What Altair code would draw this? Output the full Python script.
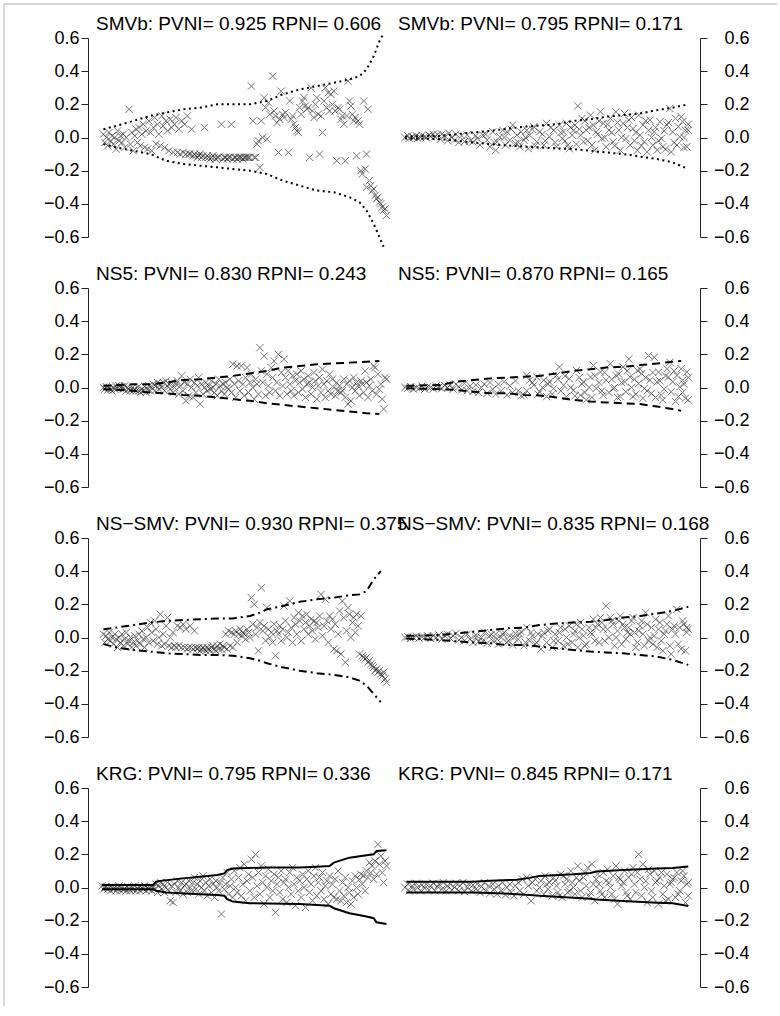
import altair as alt
import pandas as pd

FONT = "Liberation Sans"
Y_TICKS = [-0.6, -0.4, -0.2, 0.0, 0.2, 0.4, 0.6]
TITLES = [
    "SMVb: PVNI= 0.925 RPNI= 0.606", "SMVb: PVNI= 0.795 RPNI= 0.171",
    "NS5: PVNI= 0.830 RPNI= 0.243", "NS5: PVNI= 0.870 RPNI= 0.165",
    "NS\u2212SMV: PVNI= 0.930 RPNI= 0.375", "NS\u2212SMV: PVNI= 0.835 RPNI= 0.168",
    "KRG: PVNI= 0.795 RPNI= 0.336", "KRG: PVNI= 0.845 RPNI= 0.171",
]

# ---------------- SMVb (left) ----------------
SMVB_L_PTS = [
    (1,0.02),(2,-0.03),(3,0.0),(4,-0.05),(5,0.03),(6,-0.02),(7,0.01),(8,-0.04),(9,0.0),(10,-0.07),
    (11,0.04),(12,-0.02),(13,0.01),(14,-0.03),(15,0.02),(16,-0.06),(17,0.0),(19,0.17),(20,-0.04),(21,0.03),
    (22,-0.08),(23,0.01),(24,0.05),(25,-0.03),(26,0.06),(27,-0.05),(28,0.02),(29,0.08),(30,-0.06),(31,0.04),
    (32,-0.07),(33,0.1),(34,0.03),(35,-0.08),(36,0.06),(37,0.12),(38,-0.04),(39,0.08),(40,0.02),(41,-0.05),
    (42,0.13),(43,0.07),(44,-0.06),(45,0.1),(46,0.04),(47,-0.08),(48,0.11),(49,0.06),(50,-0.09),(51,0.08),
    (52,0.12),(53,-0.09),(54,0.05),(55,-0.1),(56,0.1),(57,-0.09),(58,0.08),(59,-0.1),(60,0.13),(61,-0.1),
    (62,-0.1),(63,0.05),(64,-0.11),(65,-0.1),(66,-0.11),(67,-0.12),(68,-0.11),(69,-0.1),(70,-0.12),(71,-0.11),
    (72,0.06),(73,-0.12),(74,-0.11),(75,-0.12),(76,-0.13),(77,-0.12),(78,-0.11),(79,-0.12),(80,-0.13),(81,-0.12),
    (82,-0.12),(84,0.08),(85,-0.13),(86,-0.12),(87,-0.12),(88,-0.13),(89,-0.12),(90,-0.12),(91,0.08),(92,-0.13),
    (93,-0.12),(94,-0.12),(95,-0.13),(96,-0.12),(97,-0.12),(98,-0.12),(99,-0.13),(100,-0.12),(101,-0.12),(102,-0.12),
    (103,-0.12),(104,-0.12),(105,0.31),(106,0.1),(107,-0.12),(108,-0.12),(109,-0.04),(110,-0.02),(111,-0.18),(112,0.1),
    (113,0.0),(114,0.24),(115,0.18),(116,-0.01),(117,0.21),(118,0.14),(120,0.37),(121,0.16),(122,0.13),(123,0.09),
    (124,-0.09),(125,0.11),(126,0.28),(127,0.14),(128,0.12),(129,0.15),(131,-0.09),(132,0.22),(133,0.11),(134,0.13),
    (135,0.08),(136,0.06),(137,0.04),(138,0.03),(139,0.18),(140,0.14),(141,0.22),(142,0.24),(143,0.19),(144,0.17),
    (145,0.18),(146,-0.12),(147,0.3),(148,0.16),(149,0.12),(150,0.2),(151,0.24),(152,0.14),(153,-0.1),(154,0.13),
    (155,0.03),(156,0.22),(157,0.3),(158,0.18),(159,0.27),(160,0.16),(161,0.26),(162,0.2),(163,0.28),(164,0.16),
    (165,-0.14),(166,0.18),(167,0.17),(168,0.11),(169,0.13),(170,0.08),(171,-0.14),(172,0.13),(173,0.34),(174,0.22),
    (175,0.19),(176,0.14),(177,0.1),(178,0.12),(179,-0.11),(180,0.1),(181,0.08),(182,-0.2),(183,-0.22),(184,0.22),
    (185,-0.19),(186,-0.3),(186,-0.1),(187,0.17),(188,-0.26),(189,-0.29),(190,-0.32),(191,-0.31),(192,-0.35),(193,-0.37),
    (194,-0.36),(195,-0.39),(196,-0.4),(197,-0.42),(198,-0.44),(199,-0.43),(200,-0.47),
]
SMVB_L_BAND_X = [1,10,22,34,45,57,69,81,92,104,116,127,139,151,163,174,181,186,191,195,198]
SMVB_L_UP = [0.05,0.07,0.1,0.13,0.15,0.17,0.18,0.2,0.2,0.2,0.22,0.26,0.29,0.31,0.33,0.35,0.37,0.41,0.49,0.58,0.63]
SMVB_L_LO = [-0.04,-0.06,-0.08,-0.1,-0.14,-0.16,-0.17,-0.18,-0.19,-0.2,-0.22,-0.26,-0.29,-0.32,-0.33,-0.36,-0.39,-0.44,-0.52,-0.6,-0.66]

# ---------------- SMVb (right) ----------------
SMVB_R_PTS = [
    (0,0.0),(2,0.01),(3,-0.005),(5,0.005),(6,0.0),(8,0.01),(9,-0.005),(11,0.0),(12,0.012),(14,0.005),
    (15,0.0),(17,0.015),(18,0.008),(20,0.02),(21,0.005),(23,0.018),(25,-0.01),(26,0.02),(28,0.01),(30,-0.02),
    (31,0.025),(33,0.0),(35,-0.015),(36,0.02),(38,-0.03),(40,0.01),(42,-0.025),(44,0.015),(46,-0.02),
    (48,-0.026),(51,-0.006),(53,-0.046),(55,0.014),(58,-0.016),(60,-0.056),(62,0.034),(64,-0.077),(65,-0.026),(67,0.004),
    (69,0.044),(71,-0.046),(72,0.034),(74,-0.016),(76,0.075),(78,-0.036),(79,0.014),(81,-0.056),(82,0.034),(84,-0.016),
    (86,0.044),(87,-0.067),(88,0.014),(91,0.065),(93,-0.026),(95,0.034),(98,-0.046),(100,0.085),(102,0.004),(105,0.044),
    (107,-0.056),(109,0.075),(111,-0.006),(112,0.034),(114,0.085),(115,-0.046),(116,-0.067),(118,0.014),(119,0.044),(120,0.075),
    (122,0.19),(124,0.014),(125,0.115),(126,-0.026),(128,0.044),(131,0.135),(132,-0.046),(133,0.075),(134,-0.077),(135,0.034),
    (138,0.155),(139,-0.006),(140,0.085),(142,-0.056),(144,0.044),(145,0.115),(147,-0.026),(149,0.155),(151,0.044),(152,-0.077),
    (154,0.085),(155,0.145),(156,-0.006),(158,0.105),(159,-0.046),(161,0.054),(164,-0.077),(165,0.135),(166,0.014),(168,0.075),
    (169,-0.026),(171,-0.087),(172,0.044),(173,0.105),(175,-0.046),(176,0.034),(178,-0.077),(180,0.095),(181,-0.006),(182,-0.056),
    (185,0.075),(187,0.175),(188,-0.087),(189,0.034),(191,0.115),(192,-0.046),(193,0.065),(194,0.004),(195,0.125),(196,0.095),
    (198,0.044),(199,-0.056),(200,0.044),
]
SMVB_R_PTS_MORE = [
    (50,0.01),(57,0.02),(63,-0.03),(70,0.0),(75,0.05),(80,-0.03),(85,0.0),(90,0.05),(92,-0.05),(97,0.02),
    (99,-0.02),(103,0.06),(106,-0.03),(110,0.03),(113,-0.02),(117,0.06),(121,-0.04),(123,0.05),(127,0.1),(129,-0.02),
    (130,0.06),(136,0.02),(137,0.1),(141,0.0),(143,0.08),(146,0.03),(148,-0.05),(150,0.09),(153,0.0),(157,0.06),
    (160,0.12),(162,-0.02),(163,0.03),(167,-0.05),(170,0.1),(174,0.0),(177,0.06),(179,-0.02),(183,0.04),(184,-0.07),
    (186,0.09),(190,-0.03),(197,0.0),(200,0.08),(197,-0.06),
]
SMVB_R_BAND_X = [0,25,48,60,84,107,119,131,142,154,166,178,189,200]
SMVB_R_UP = [0.005,0.01,0.03,0.04,0.065,0.08,0.1,0.11,0.125,0.135,0.145,0.165,0.18,0.2]
SMVB_R_LO = [-0.005,-0.01,-0.03,-0.04,-0.055,-0.065,-0.07,-0.08,-0.09,-0.1,-0.115,-0.13,-0.15,-0.19]

# ---------------- NS5 (left) ----------------
NS5_L_PTS = [
    (1,0.0),(2,-0.01),(3,0.005),(4,-0.015),(5,0.0),(6,-0.01),(7,-0.02),(8,0.0),(9,-0.01),(10,0.01),
    (11,-0.005),(12,0.01),(13,0.0),(14,0.005),(15,-0.01),(16,0.01),(17,-0.02),(18,0.0),(19,-0.01),(20,-0.02),
    (21,-0.005),(22,-0.02),(23,-0.01),(24,-0.02),(25,0.0),(26,-0.02),(27,-0.03),(28,-0.01),(29,-0.02),(30,0.005),
    (31,-0.03),(32,-0.01),(33,0.01),(34,-0.02),(35,0.0),(36,0.02),(37,-0.02),(38,0.01),(39,0.03),(40,-0.01),
    (41,0.02),(42,0.0),(43,0.03),(44,-0.02),(45,0.04),(46,0.01),(47,0.02),(48,-0.01),(49,0.03),(50,-0.03),
    (51,0.0),(52,0.02),(53,0.04),(54,-0.04),(55,0.01),(56,0.07),(57,-0.02),(58,0.03),(59,-0.08),(60,0.02),
    (61,-0.05),(62,0.05),(63,0.0),(64,-0.06),(65,0.03),(66,-0.03),(67,0.01),(68,0.06),(69,-0.1),(70,0.02),
    (71,-0.04),(72,0.0),(73,0.03),(74,-0.02),(75,0.01),(76,-0.01),(77,0.04),(78,0.0),(79,-0.03),(80,0.02),
    (81,-0.05),(82,0.05),(83,0.01),(84,-0.02),(85,0.02),(86,-0.04),(87,0.03),(88,0.0),(89,-0.01),(90,0.05),
    (91,-0.03),(92,0.14),(93,0.02),(94,-0.06),(95,0.13),(96,0.04),(97,-0.02),(98,0.13),(99,0.02),(100,-0.05),
    (101,0.06),(102,0.12),(103,-0.03),(104,0.03),(105,0.08),(106,0.0),(107,-0.07),(108,0.05),(109,0.02),(110,-0.04),
    (111,0.24),(112,0.1),(113,0.03),(114,0.19),(115,-0.05),(116,0.08),(117,0.01),(118,-0.03),(119,0.12),(120,0.06),
    (121,0.16),(122,-0.02),(123,0.03),(124,0.2),(125,-0.05),(126,0.09),(127,0.01),(128,0.17),(129,0.06),(130,-0.04),
    (131,0.1),(132,0.02),(133,-0.02),(134,0.07),(135,-0.05),(136,0.04),(137,0.08),(138,-0.03),(139,0.03),(140,0.1),
    (141,-0.01),(142,0.05),(143,-0.06),(144,0.02),(145,0.07),(146,0.03),(147,-0.04),(148,0.0),(149,0.09),(150,0.04),
    (151,-0.07),(152,0.01),(153,0.06),(154,-0.03),(155,0.11),(156,0.02),(157,-0.06),(158,0.04),(159,-0.02),(160,0.08),
    (161,-0.04),(162,0.05),(163,0.0),(164,-0.05),(165,0.03),(166,-0.02),(167,0.01),(168,-0.03),(169,-0.02),(170,0.05),
    (171,-0.06),(172,0.02),(173,-0.1),(174,0.04),(175,-0.08),(176,0.0),(177,0.06),(178,-0.02),(179,0.03),(180,0.01),
    (181,-0.05),(182,0.04),(183,0.02),(184,-0.03),(185,0.1),(186,0.03),(187,-0.06),(188,0.01),(189,0.05),(190,-0.02),
    (191,0.13),(192,0.12),(193,-0.04),(194,0.08),(195,-0.01),(196,0.02),(197,-0.07),(198,-0.13),(199,0.06),(200,0.05),
]
NS5_L_BAND_X = [1,22,34,45,57,69,81,92,104,116,127,139,151,163,174,186,195]
NS5_L_UP = [0.01,0.02,0.02,0.03,0.045,0.05,0.06,0.07,0.085,0.1,0.12,0.13,0.14,0.145,0.15,0.155,0.16]
NS5_L_LO = [-0.01,-0.02,-0.03,-0.035,-0.045,-0.05,-0.06,-0.07,-0.08,-0.095,-0.105,-0.115,-0.125,-0.135,-0.145,-0.155,-0.16]

# ---------------- NS5 (right) ----------------
NS5_R_PTS = [
    (0,0.0),(2,-0.005),(4,0.005),(6,-0.01),(8,0.0),(10,-0.005),(12,0.008),(14,-0.01),(16,0.005),(18,0.0),
    (20,-0.008),(22,0.01),(24,0.003),(26,-0.006),(28,0.012),(30,0.0),(32,0.015),(34,-0.01),(36,0.02),(38,0.005),
    (40,-0.015),(42,0.025),(44,-0.02),(46,0.01),(48,-0.025),(50,0.015),(52,-0.03),(54,0.0),(56,0.02),(58,-0.035),
    (60,0.03),(62,-0.01),(64,-0.04),(66,0.02),(68,-0.02),(70,0.035),(72,-0.045),(74,0.01),(76,-0.03),(78,0.04),
    (80,-0.02),(82,-0.05),(84,-0.045),
    (86,0.073),(88,0.044),(91,0.014),(93,0.063),(95,-0.026),(98,0.044),(100,-0.055),(102,0.034),(105,-0.006),(107,0.073),
    (109,0.123),(112,0.014),(114,-0.055),(116,0.053),(119,-0.016),(121,0.103),(124,-0.046),(126,0.034),(128,-0.075),(131,0.063),
    (133,0.133),(135,-0.006),(138,0.093),(140,-0.046),(142,0.044),(145,0.143),(147,-0.006),(149,0.073),(152,-0.055),(154,0.123),
    (155,0.034),(156,-0.026),(158,0.172),(159,0.063),(161,-0.055),(164,0.103),(165,0.024),(167,0.083),(168,-0.065),(169,-0.006),
    (172,0.192),(173,0.044),(174,-0.036),(176,0.182),(178,0.034),(179,0.093),(181,-0.046),(182,-0.075),(185,0.113),(186,0.063),
    (187,0.152),(188,-0.026),(189,0.034),(191,-0.085),(192,0.073),(193,-0.055),(194,0.004),(195,0.113),(196,0.044),(198,-0.065),
    (199,0.093),(200,-0.075),
]
NS5_R_PTS_MORE = [
    (86,-0.02),(90,0.03),(94,-0.04),(97,0.0),(101,0.02),(104,-0.04),(108,0.05),(110,-0.02),(113,0.07),(117,0.0),
    (120,-0.05),(123,0.06),(125,0.02),(127,-0.03),(130,0.0),(132,-0.06),(134,0.07),(137,0.03),(139,-0.02),(141,0.09),
    (144,-0.03),(146,0.05),(148,0.0),(150,-0.06),(151,0.08),(153,0.03),(157,0.1),(160,0.0),(162,0.05),(163,-0.04),
    (166,0.11),(170,0.06),(171,-0.02),(175,0.09),(177,-0.06),(180,0.04),(183,-0.01),(184,0.07),(190,0.1),(197,0.02),
    (200,0.06),(196,-0.03),
]
NS5_R_BAND_X = [1,25,36,48,60,72,84,95,107,119,131,142,154,166,178,189,195]
NS5_R_UP = [0.01,0.015,0.035,0.045,0.055,0.06,0.065,0.07,0.085,0.1,0.11,0.12,0.125,0.135,0.145,0.155,0.16]
NS5_R_LO = [-0.005,-0.01,-0.015,-0.025,-0.035,-0.035,-0.045,-0.048,-0.06,-0.075,-0.085,-0.09,-0.095,-0.1,-0.115,-0.13,-0.14]

# ---------------- NS-SMV (left) ----------------
NSSMV_L_PTS = [
    (1,0.02),(2,-0.03),(3,0.01),(4,-0.01),(5,0.03),(6,-0.02),(7,0.0),(8,-0.04),(9,0.02),(10,-0.01),
    (11,-0.06),(12,0.0),(13,-0.03),(14,0.02),(15,-0.05),(16,-0.01),(17,0.03),(18,-0.04),(19,-0.02),(20,0.0),
    (21,-0.06),(22,-0.03),(23,0.01),(24,-0.05),(25,-0.02),(26,0.02),(27,-0.04),(28,0.04),(29,-0.01),(30,-0.06),
    (31,0.0),(32,0.06),(33,-0.03),(34,0.09),(35,0.03),(36,-0.02),(37,0.1),(38,0.05),(39,-0.04),(40,0.0),
    (41,0.14),(42,-0.05),(43,0.02),(44,-0.04),(45,0.07),(46,0.12),(47,-0.05),(48,0.0),(49,-0.06),(50,0.03),
    (51,-0.05),(52,-0.06),(53,0.07),(54,-0.05),(55,0.06),(56,-0.06),(57,0.08),(58,-0.06),(59,0.05),(60,-0.07),
    (61,-0.06),(62,0.07),(63,-0.06),(64,-0.07),(65,0.04),(66,-0.06),(67,-0.07),(68,-0.06),(69,-0.08),(70,-0.07),
    (71,-0.06),(72,-0.07),(73,-0.08),(74,-0.06),(75,-0.07),(76,-0.08),(77,-0.06),(78,-0.05),(79,-0.07),(80,-0.08),
    (81,-0.05),(82,-0.07),(83,-0.04),(84,-0.07),(85,-0.05),(86,-0.06),(87,0.02),(88,-0.07),(89,0.04),(90,-0.05),
    (91,0.03),(92,-0.06),(93,0.02),(94,0.04),(95,-0.03),(96,0.02),(97,0.05),(98,0.01),(99,0.03),(100,0.02),
    (101,-0.01),(102,0.05),(103,0.03),(104,0.0),(105,0.24),(106,0.08),(107,0.2),(108,0.02),(109,0.06),(110,-0.08),
    (111,0.09),(112,0.3),(113,0.04),(114,0.07),(115,-0.02),(116,0.18),(117,0.05),(118,0.0),(119,0.03),(120,-0.03),
    (121,0.08),(122,-0.11),(123,0.04),(124,0.02),(125,0.07),(126,-0.02),(127,0.05),(128,0.19),(129,0.1),(130,0.0),
    (131,0.03),(132,0.22),(133,0.06),(134,-0.03),(135,0.12),(136,0.08),(137,0.02),(138,0.15),(139,0.1),(140,-0.02),
    (141,0.13),(142,0.05),(143,0.09),(144,0.14),(145,0.02),(146,0.07),(147,0.11),(148,0.04),(149,0.1),(150,-0.01),
    (151,0.09),(152,0.06),(153,0.13),(154,0.26),(155,0.01),(156,0.07),(157,0.23),(158,0.1),(159,-0.03),(160,0.13),
    (161,0.05),(162,0.11),(163,-0.07),(164,0.08),(165,-0.08),(166,0.02),(167,0.16),(168,-0.1),(169,0.22),(170,0.12),
    (171,-0.15),(172,0.04),(173,0.18),(174,0.14),(175,0.0),(176,0.09),(177,0.12),(178,0.03),(179,0.14),(180,0.07),
    (181,-0.1),(182,0.13),(183,-0.11),(184,-0.12),(185,-0.13),(186,-0.12),(187,-0.15),(188,-0.14),(189,-0.16),(190,-0.17),
    (191,-0.18),(192,-0.2),(193,-0.19),(194,-0.21),(195,-0.2),(196,-0.22),(197,-0.23),(198,-0.21),(199,-0.25),(200,-0.27),
]
NSSMV_L_BAND_X = [1,10,22,34,45,57,69,81,92,104,111,116,127,139,151,163,174,181,186,191,196]
NSSMV_L_UP = [0.05,0.06,0.075,0.09,0.1,0.105,0.11,0.115,0.115,0.13,0.15,0.17,0.19,0.215,0.23,0.24,0.255,0.26,0.28,0.35,0.4]
NSSMV_L_LO = [-0.04,-0.06,-0.075,-0.085,-0.095,-0.1,-0.105,-0.105,-0.11,-0.125,-0.14,-0.155,-0.18,-0.2,-0.215,-0.225,-0.24,-0.26,-0.29,-0.34,-0.39]

# ---------------- NS-SMV (right) ----------------
NSSMV_R_PTS = [
    (0,0.0),(2,0.005),(4,-0.005),(6,0.0),(8,0.008),(10,-0.004),(12,0.005),(14,0.0),(16,0.01),(18,-0.005),
    (20,0.01),(22,0.0),(24,0.015),(26,-0.01),(28,0.012),(30,0.02),(32,-0.005),(34,0.01),(36,0.025),(38,-0.015),
    (40,0.0),(42,-0.02),(44,0.02),(46,-0.01),(48,-0.03),(50,0.015),(52,-0.025),(54,0.0),(56,0.03),(58,-0.035),
    (60,0.01),(62,-0.02),(64,0.02),(66,-0.04),(68,0.0),(70,0.03),(72,-0.03),(74,0.01),(76,-0.045),(78,0.025),
    (80,-0.01),(82,0.035),(84,-0.05),(86,0.06),(88,-0.02),(90,0.01),(92,-0.04),(94,0.02),(96,-0.07),(98,0.03),
    (100,-0.03),(102,0.05),(104,-0.06),(106,0.02),(108,-0.02),(110,0.06),(112,-0.05),(114,0.0),(116,0.07),(118,-0.03),
    (120,0.04),(121,0.08),(122,-0.06),(124,0.09),(126,0.01),(128,-0.04),(130,0.06),(132,0.02),(133,0.11),(134,-0.02),
    (136,0.08),(138,0.12),(140,0.05),(142,0.19),(144,0.0),(145,0.12),(146,0.1),(148,-0.05),(150,0.04),(152,0.13),
    (154,0.08),(156,-0.01),(157,0.03),(158,0.06),(160,0.1),(162,0.03),(164,-0.03),(166,0.07),(168,0.02),(169,-0.05),
    (170,0.15),(172,-0.02),(174,0.06),(176,0.01),(177,0.11),(178,-0.06),(180,0.09),(182,-0.08),(183,0.02),(184,0.04),
    (186,0.13),(188,-0.1),(189,0.05),(190,0.07),(192,0.17),(193,-0.04),(194,0.06),(196,0.1),(197,0.08),(198,-0.08),
    (199,0.03),(200,0.05),
]
NSSMV_R_PTS_MORE = [
    (50,0.0),(55,-0.02),(61,0.02),(65,-0.01),(69,0.02),(73,-0.02),(77,0.0),(81,0.02),(85,-0.03),(89,0.03),
    (93,-0.03),(97,0.01),(101,0.04),(105,-0.02),(109,0.03),(113,0.05),(115,-0.04),(119,0.02),(123,0.0),(125,0.05),
    (127,-0.05),(131,0.03),(135,0.06),(137,-0.03),(139,0.09),(141,-0.02),(143,0.05),(147,0.08),(149,0.0),(151,0.1),
    (153,-0.04),(155,0.06),(159,0.02),(161,0.12),(163,-0.06),(165,0.04),(167,0.1),(171,0.08),(173,0.0),(175,-0.04),
    (179,0.05),(181,-0.02),(185,0.08),(187,-0.05),(191,0.02),(195,-0.07),(199,0.06),
]
NSSMV_R_BAND_X = [1,25,48,60,72,84,95,107,119,131,142,154,166,178,189,200]
NSSMV_R_UP = [0.01,0.015,0.035,0.045,0.055,0.06,0.075,0.085,0.09,0.095,0.105,0.12,0.13,0.145,0.16,0.185]
NSSMV_R_LO = [-0.006,-0.016,-0.03,-0.035,-0.045,-0.045,-0.055,-0.065,-0.075,-0.085,-0.09,-0.095,-0.105,-0.115,-0.135,-0.165]

# ---------------- KRG (left) ----------------
KRG_L_PTS = [
    (0,0.01),(1,-0.01),(2,0.0),(3,0.005),(4,-0.01),(5,0.0),(6,-0.02),(7,0.005),(8,-0.01),(9,0.0),
    (10,-0.02),(11,-0.005),(12,0.01),(13,-0.02),(14,0.0),(15,-0.015),(16,-0.005),(17,-0.02),(18,0.005),(19,-0.01),
    (20,-0.02),(21,0.0),(22,-0.015),(23,0.01),(24,-0.02),(25,-0.005),(26,0.005),(27,-0.02),(28,0.0),(29,-0.01),
    (30,0.01),(31,-0.02),(32,0.0),(33,-0.01),(34,0.005),(35,-0.02),(36,0.0),(37,-0.01),(38,0.02),(39,-0.03),
    (40,0.01),(41,0.03),(42,-0.01),(43,0.02),(44,-0.03),(45,0.0),(46,0.03),(47,-0.02),(48,-0.08),(49,0.01),
    (50,-0.09),(51,0.02),(52,-0.03),(53,0.04),(54,0.0),(55,-0.02),(56,0.03),(57,-0.04),(58,0.01),(59,0.02),
    (60,-0.03),(61,0.04),(62,0.0),(63,-0.02),(64,0.03),(65,0.06),(66,-0.01),(67,0.02),(68,-0.04),(69,0.04),
    (70,0.0),(71,0.07),(72,-0.02),(73,0.03),(74,-0.05),(75,0.01),(76,0.05),(77,-0.03),(78,0.02),(79,-0.06),
    (80,0.04),(81,0.0),(82,-0.02),(83,0.03),(84,-0.16),(85,0.06),(86,-0.01),(87,0.02),(88,0.09),(89,-0.04),
    (90,0.01),(91,0.05),(92,-0.06),(93,0.1),(94,0.0),(95,-0.03),(96,0.06),(97,0.12),(98,-0.05),(99,0.02),
    (100,0.14),(101,-0.08),(102,0.04),(103,0.08),(104,-0.02),(105,0.17),(106,0.06),(107,-0.06),(108,0.2),(109,0.01),
    (110,0.09),(111,-0.04),(112,0.13),(113,0.03),(114,-0.1),(115,0.07),(116,0.0),(117,0.11),(118,-0.06),(119,0.04),
    (120,-0.02),(121,0.08),(122,-0.15),(123,0.02),(124,0.06),(125,-0.03),(126,0.1),(127,-0.07),(128,0.03),(129,0.05),
    (130,-0.09),(131,0.0),(132,0.09),(133,-0.04),(134,0.12),(135,0.02),(136,-0.11),(137,0.06),(138,-0.02),(139,0.04),
    (140,-0.06),(141,0.08),(142,0.0),(143,-0.12),(144,0.05),(145,0.1),(146,-0.03),(147,0.02),(148,-0.08),(149,0.07),
    (150,0.12),(151,-0.05),(152,0.03),(153,0.06),(154,-0.02),(155,0.09),(156,-0.07),(157,0.01),(158,0.04),(159,-0.1),
    (160,0.07),(161,-0.04),(162,0.02),(163,-0.06),(164,0.05),(165,-0.07),(166,0.1),(167,-0.02),(168,-0.08),(169,0.03),
    (170,-0.05),(171,0.06),(172,-0.09),(173,0.0),(174,-0.03),(175,-0.1),(176,0.04),(177,-0.06),(178,0.07),(179,0.0),
    (180,-0.04),(181,0.05),(182,0.08),(183,0.02),(184,0.07),(185,-0.02),(186,0.1),(187,0.06),(188,0.15),(189,0.09),
    (190,0.13),(191,0.05),(192,0.16),(193,0.08),(194,0.26),(195,0.14),(196,0.19),(197,0.09),(198,0.03),(199,0.16),(200,0.13),
]
KRG_L_UP_X = [0,36,38,41,57,69,81,86,88,92,116,139,151,160,163,174,186,191,193,200]
KRG_L_UP = [0.015,0.015,0.035,0.04,0.055,0.065,0.075,0.085,0.105,0.115,0.12,0.12,0.125,0.13,0.15,0.18,0.195,0.2,0.22,0.225]
KRG_L_LO_X = [0,36,38,45,69,81,86,88,92,104,139,151,160,163,174,186,191,193,200]
KRG_L_LO = [-0.01,-0.01,-0.02,-0.03,-0.04,-0.045,-0.05,-0.07,-0.085,-0.095,-0.1,-0.105,-0.11,-0.125,-0.155,-0.175,-0.185,-0.21,-0.22]

# ---------------- KRG (right) ----------------
KRG_R_PTS = [
    (0,0.0),(2,0.02),(3,-0.02),(5,0.01),(6,-0.01),(8,0.025),(9,0.0),(11,-0.02),(12,0.015),(14,-0.005),
    (15,0.02),(17,-0.015),(18,0.01),(20,0.025),(21,-0.02),(23,0.005),(24,0.02),(26,-0.01),(27,0.03),(29,-0.02),
    (30,0.01),(32,0.02),(33,-0.015),(35,0.0),(36,0.025),(38,-0.02),(39,0.01),(41,0.03),(42,-0.025),(44,0.0),
    (45,0.02),(47,-0.02),(48,0.015),(50,-0.01),(51,0.02),(53,-0.03),(54,0.005),(56,0.03),(57,-0.02),(59,0.01),
    (60,-0.035),(62,0.02),(63,-0.01),(65,-0.04),(66,0.01),(68,-0.02),(69,0.03),(71,-0.045),(72,0.0),(74,0.02),
    (75,-0.03),(77,-0.05),(78,0.01),(80,0.03),(81,-0.02),(83,0.05),(84,-0.04),(86,0.06),(87,0.01),(89,-0.08),
    (90,0.03),(92,0.05),(93,-0.02),(95,0.0),(96,0.04),(98,-0.04),(99,0.07),(101,-0.01),(102,0.03),(104,-0.05),
    (105,0.06),(107,0.01),(108,-0.03),(110,0.08),(111,-0.06),(113,0.02),(114,0.05),(116,-0.02),(117,0.1),(119,0.0),
    (120,-0.04),(122,0.13),(123,0.04),(125,-0.06),(126,0.06),(128,0.01),(129,0.12),(131,-0.03),(132,0.14),(134,-0.08),
    (135,0.05),(137,0.02),(138,-0.02),(140,0.09),(141,-0.06),(143,0.11),(144,0.03),(146,-0.04),(147,0.07),(149,0.13),
    (150,-0.1),(152,0.05),(153,0.01),(155,0.1),(156,-0.03),(158,0.06),(159,-0.07),(161,0.12),(162,0.02),(164,0.09),
    (165,0.2),(167,-0.05),(168,0.14),(170,0.04),(171,-0.09),(173,0.08),(174,-0.02),(176,0.1),(177,0.03),(179,-0.1),
    (180,0.06),(182,-0.04),(183,0.01),(185,0.08),(186,-0.07),(188,0.03),(189,0.05),(191,-0.06),(192,0.09),(194,-0.02),
    (195,0.04),(197,0.07),(198,-0.09),(199,0.02),(200,-0.05),
]
KRG_R_PTS_MORE = [
    (100,0.02),(106,0.04),(109,-0.05),(112,0.07),(115,-0.03),(118,0.03),(121,0.06),(124,-0.02),(127,0.09),(130,-0.05),
    (133,0.02),(136,0.08),(139,-0.04),(142,0.04),(145,0.0),(148,-0.07),(151,0.06),(154,0.03),(157,-0.05),(160,0.08),
    (163,-0.03),(166,0.05),(169,0.0),(172,0.11),(175,-0.06),(178,0.04),(181,0.09),(184,-0.08),(187,0.02),(190,0.06),
    (193,-0.04),(196,0.1),(200,0.03),
]
KRG_R_BAND_X = [1,48,60,79,88,95,119,131,135,154,178,189,200]
KRG_R_UP = [0.035,0.035,0.04,0.047,0.058,0.07,0.08,0.088,0.097,0.105,0.115,0.117,0.127]
KRG_R_LO = [-0.03,-0.03,-0.033,-0.04,-0.045,-0.05,-0.062,-0.068,-0.072,-0.082,-0.092,-0.095,-0.112]

# line styles of the four methods
DOTTED = [2, 3.5]
DASHED = [8, 5]
DASHDOT = [8, 4, 2, 4]
SOLID = None

CROSS = "M-1,-1L1,1M-1,1L1,-1"
PANEL_H = 199


def make_panel(pts, up_x, up, lo_x, lo, title, side, dash, deco=False):
    left = side == "left"
    dom = [-9.84, 206.7] if left else [-6.35, 208.3]
    w = 308 if left else 304
    pdf = pd.DataFrame(pts, columns=["idx", "val"])
    bdf = pd.DataFrame({
        "idx": list(up_x) + list(lo_x),
        "val": list(up) + list(lo),
        "side": ["upper"] * len(up) + ["lower"] * len(lo),
    })
    xenc = alt.X("idx:Q", scale=alt.Scale(domain=dom, nice=False, zero=False), axis=None)
    yaxis = alt.Axis(
        orient=side, values=Y_TICKS, format=".1f", title=None, grid=False,
        tickSize=7, labelPadding=2 if left else 42, labelAlign="right",
        labelFont=FONT, labelFontSize=18, labelColor="black",
        domainColor="#222", tickColor="#222", domainWidth=1, tickWidth=1,
        labelFlush=False, labelOverlap=False, labelBaseline="middle",
    )
    yenc = alt.Y("val:Q", scale=alt.Scale(domain=[-0.6, 0.6], nice=False, zero=False), axis=yaxis)
    pts_layer = alt.Chart(pdf).mark_point(
        shape=CROSS, size=53, filled=False, stroke="#222", strokeWidth=1, opacity=0.62
    ).encode(x=xenc, y=yenc)
    line_kw = dict(color="black", strokeWidth=2, strokeCap="butt")
    if dash is not None:
        line_kw["strokeDash"] = dash
    band_layer = alt.Chart(bdf).mark_line(**line_kw).encode(x=xenc, y=yenc, detail="side:N")
    layers = [pts_layer, band_layer]
    offset = -20
    if deco:
        deco_df = pd.DataFrame({"k": [0]})
        top_bar = alt.Chart(deco_df).mark_rect(color="#d8d8d8").encode(
            x=alt.value(-85), x2=alt.value(689), y=alt.value(-35), y2=alt.value(-33))
        left_bar = alt.Chart(deco_df).mark_rect(color="#d8d8d8").encode(
            x=alt.value(-85), x2=alt.value(-83), y=alt.value(-35), y2=alt.value(968))
        layers += [top_bar, left_bar]
        offset = -46
    return alt.layer(*layers).properties(
        width=w, height=PANEL_H,
        title=alt.TitleParams(
            text=title, anchor="start", frame="group", dx=8 if left else 2,
            offset=offset, fontSize=19, font=FONT, fontWeight="normal",
            color="black", baseline="alphabetic",
        ),
    )


panels = [
    make_panel(SMVB_L_PTS, SMVB_L_BAND_X, SMVB_L_UP, SMVB_L_BAND_X, SMVB_L_LO, TITLES[0], "left", DOTTED, deco=True),
    make_panel(SMVB_R_PTS + SMVB_R_PTS_MORE, SMVB_R_BAND_X, SMVB_R_UP, SMVB_R_BAND_X, SMVB_R_LO, TITLES[1], "right", DOTTED),
    make_panel(NS5_L_PTS, NS5_L_BAND_X, NS5_L_UP, NS5_L_BAND_X, NS5_L_LO, TITLES[2], "left", DASHED),
    make_panel(NS5_R_PTS + NS5_R_PTS_MORE, NS5_R_BAND_X, NS5_R_UP, NS5_R_BAND_X, NS5_R_LO, TITLES[3], "right", DASHED),
    make_panel(NSSMV_L_PTS, NSSMV_L_BAND_X, NSSMV_L_UP, NSSMV_L_BAND_X, NSSMV_L_LO, TITLES[4], "left", DASHDOT),
    make_panel(NSSMV_R_PTS + NSSMV_R_PTS_MORE, NSSMV_R_BAND_X, NSSMV_R_UP, NSSMV_R_BAND_X, NSSMV_R_LO, TITLES[5], "right", DASHDOT),
    make_panel(KRG_L_PTS, KRG_L_UP_X, KRG_L_UP, KRG_L_LO_X, KRG_L_LO, TITLES[6], "left", SOLID),
    make_panel(KRG_R_PTS + KRG_R_PTS_MORE, KRG_R_BAND_X, KRG_R_UP, KRG_R_BAND_X, KRG_R_LO, TITLES[7], "right", SOLID),
]

chart = alt.concat(
    *panels, columns=2, spacing={"row": 51, "column": 0}, bounds="flush"
).properties(
    padding={"left": 3, "top": 3, "right": 0, "bottom": 0},
    background="white",
).configure_view(stroke=None)

chart.save("out.html", embed_options={"renderer": "svg", "actions": False})
